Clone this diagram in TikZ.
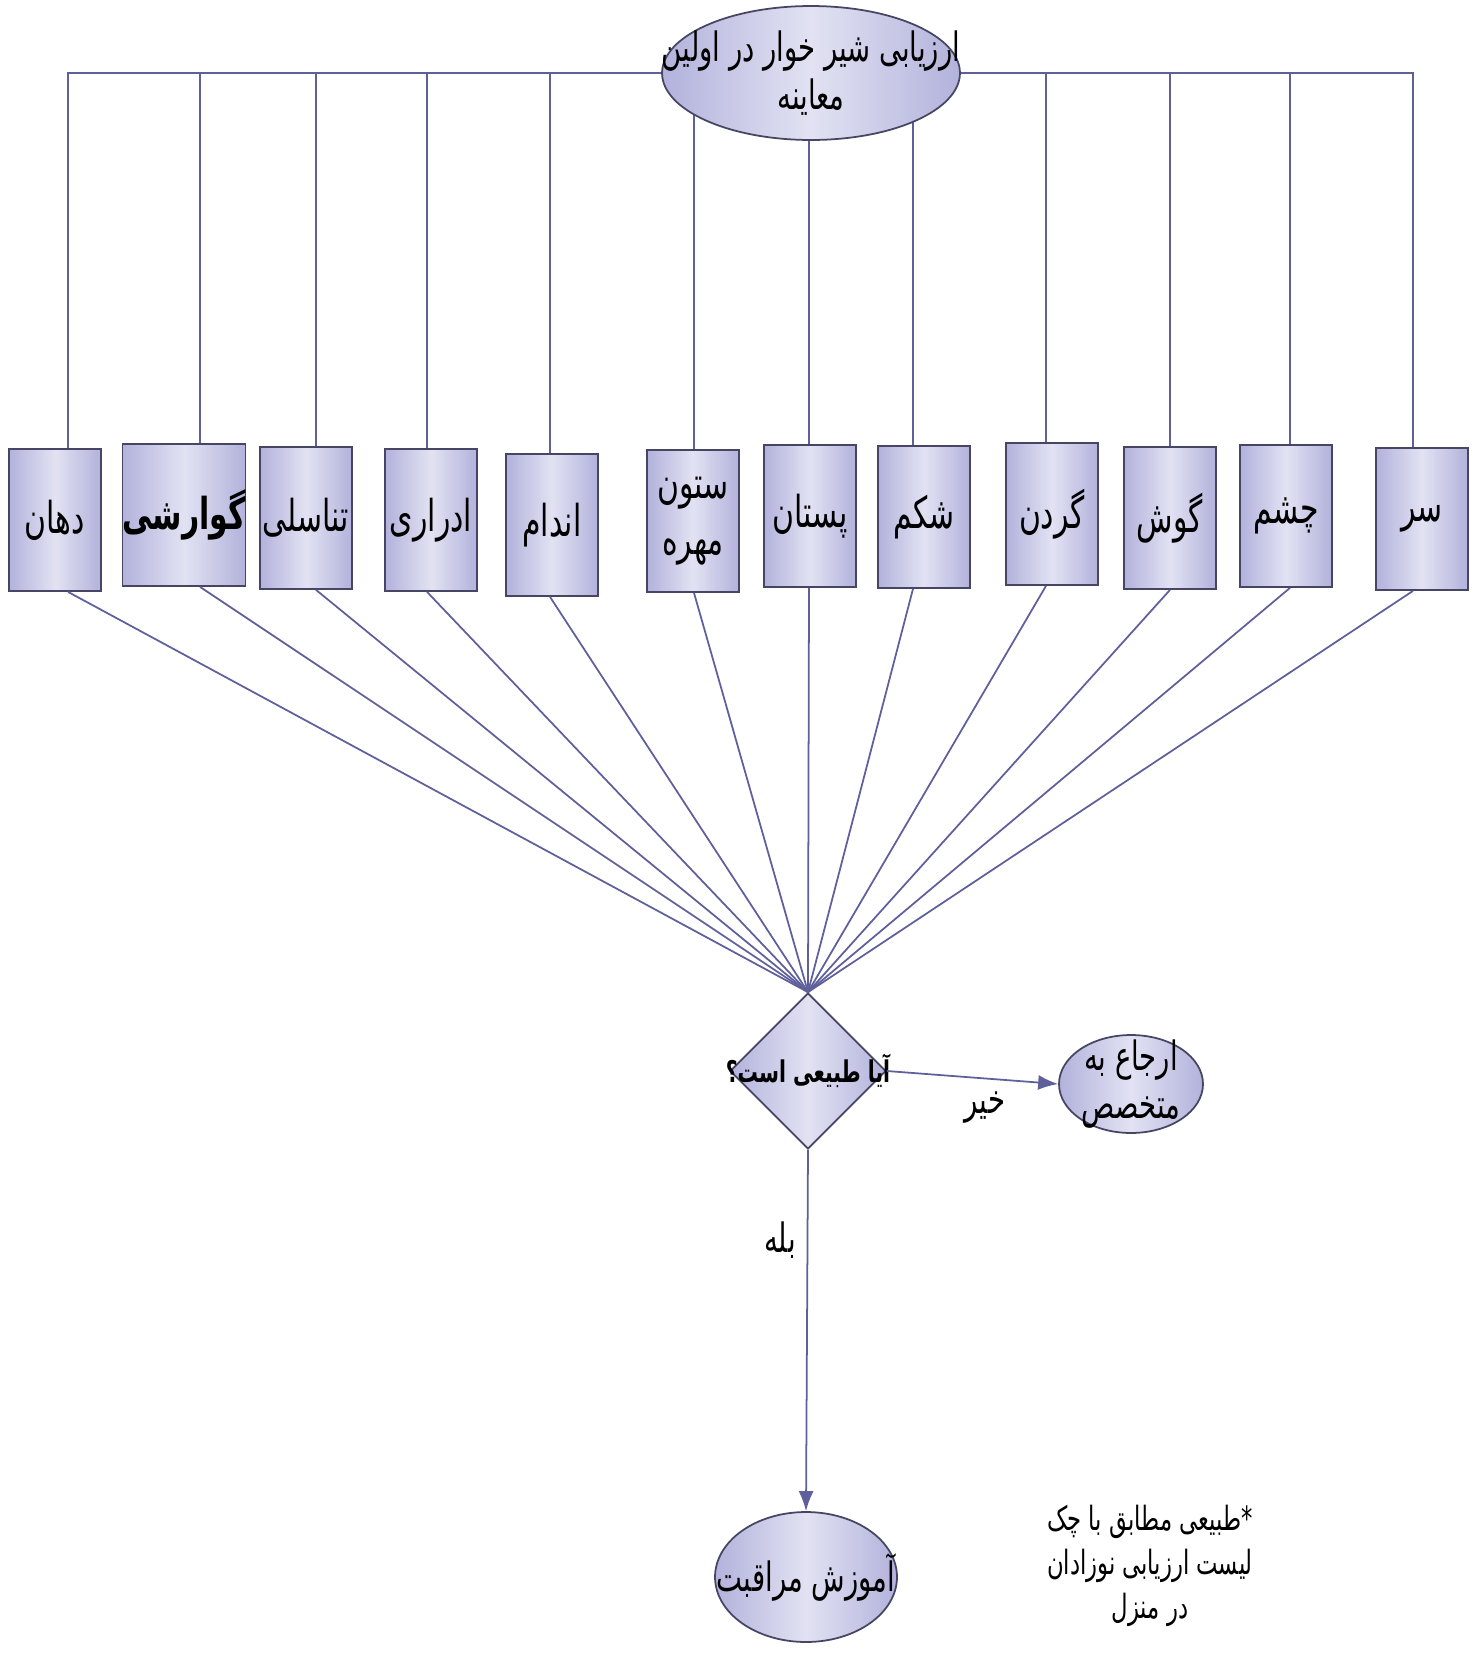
\documentclass[tikz,border=0pt]{standalone}
\usepackage{fontspec}
\setmainfont{Liberation Sans}
\newfontfamily\fa[Script=Arabic,FakeStretch=0.68]{DejaVu Sans}
\TeXXeTstate=1
\usetikzlibrary{shapes.geometric}
\usetikzlibrary{arrows.meta}
\usetikzlibrary{backgrounds}
\definecolor{linkblue}{RGB}{95,95,155}
\definecolor{rimgray}{RGB}{70,70,100}
\definecolor{lavedge}{RGB}{178,178,220}
\definecolor{lavmid}{RGB}{226,226,243}
\newcommand{\rl}[1]{\beginR#1\endR}
\tikzset{
	organ/.style={draw=rimgray, line width=1pt, left color=lavedge, right color=lavedge,
		middle color=lavmid, minimum width=1.84cm, minimum height=2.84cm, inner sep=0pt,
		align=center, font=\fa\fontsize{25}{32}\selectfont},
	oval/.style={ellipse, draw=rimgray, line width=1pt, left color=lavedge, right color=lavedge,
		middle color=lavmid, inner sep=0pt},
	ask/.style={diamond, draw=rimgray, line width=1pt, left color=lavedge, right color=lavedge,
		middle color=lavmid, minimum size=3.12cm, inner sep=0pt},
	link/.style={linkblue, line width=1pt},
	txt/.style={align=center, font=\fa\fontsize{23}{27}\selectfont},
}

\begin{document}
\begin{tikzpicture}[x=0.02cm, y=-0.02cm]
	\useasboundingbox (0,0) rectangle (1478,1664);

	% top: first examination
	\node[oval, minimum width=5.96cm, minimum height=2.68cm] (top) at (811,73) {};
	\node[txt] (toptxt) at (top) {\rl{ارزیابی شیر خوار در اولین}\\\rl{معاینه}};

	% question
	\node[ask] (q) at (808,1071) {};
	\node[txt, font=\fa\bfseries\fontsize{17}{20}\selectfont] (qtxt) at (q) {\rl{آیا طبیعی است؟}};

	% referral
	\node[oval, minimum width=2.88cm, minimum height=1.96cm] (ref) at (1131,1084) {};
	\node[txt] (reftxt) at (ref) {\rl{ارجاع به}\\\rl{متخصص}};

	% care education
	\node[oval, minimum width=3.64cm, minimum height=2.6cm] (edu) at (806,1577) {};
	\node[txt] (edutxt) at (edu) {\rl{آموزش مراقبت}};

	% organs
	\foreach \n/\cx/\cy/\dx/\t in {
			1/55/520/68/{\rl{دهان}},
			2/184/515/200/{\bfseries\rl{گوارشی}},
			3/306/518/316/{\rl{تناسلی}},
			4/431/520/427/{\rl{ادراری}},
			5/552/525/550/{\rl{اندام}},
			6/693/521/694/{\rl{ستون}\\\rl{مهره}},
			7/810/516/809/{\rl{پستان}},
			8/924/517/913/{\rl{شکم}},
			9/1052/514/1046/{\rl{گردن}},
			10/1170/518/1170/{\rl{گوش}},
			11/1286/516/1290/{\rl{چشم}},
			12/1422/519/1413/{\rl{سر}}}{
		\node[organ] (b\n) at (\cx,\cy) {\t};
		\coordinate (d\n) at (\dx,73);
		\begin{scope}[on background layer]
			\draw[link] (b\n.north -| d\n) -- (d\n) -- (top.center);
		\end{scope}
		\draw[link] (b\n.south -| d\n) -- (q.north);
	}

	% answers
	\draw[link, -{Latex[length=4mm,width=3mm]}] (q.east) -- (ref.west);
	\node[txt] (no) at (985,1108) {\rl{خیر}};
	\draw[link, -{Latex[length=4mm,width=3mm]}] (q.south) -- (edu.north);
	\node[txt] (yes) at (780,1240) {\rl{بله}};

	% note
	\node[txt, font=\fa\fontsize{19}{25}\selectfont] (note) at (1150,1566)
		{\rl{*طبیعی مطابق با چک}\\\rl{لیست ارزیابی نوزادان}\\\rl{در منزل}};
\end{tikzpicture}
\end{document}
